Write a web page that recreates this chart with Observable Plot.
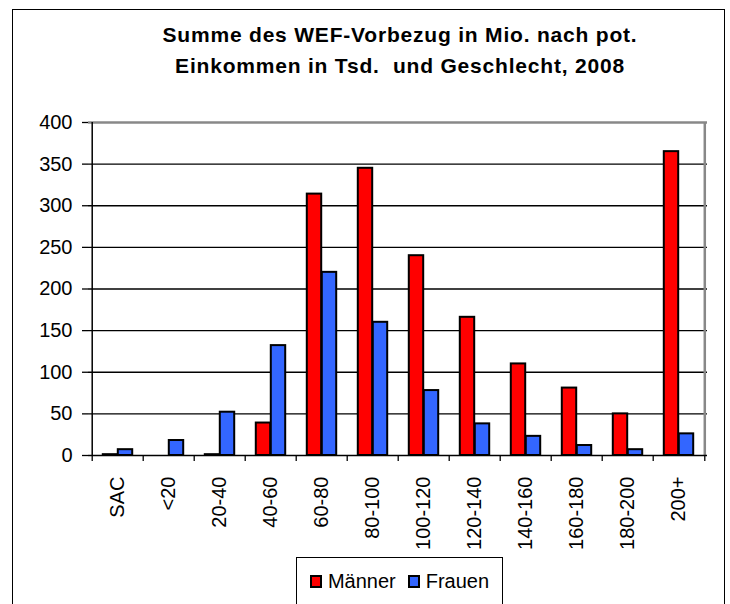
<!DOCTYPE html>
<html>
<head>
<meta charset="utf-8">
<script src="https://cdn.jsdelivr.net/npm/d3@7"></script>
<script src="https://cdn.jsdelivr.net/npm/@observablehq/plot@0.6"></script>
<style>
  html, body { margin: 0; padding: 0; background: #fff; }
  body { width: 730px; height: 604px; position: relative; overflow: hidden; font-family: "Liberation Sans", Arial, sans-serif; }
  #frame { position: absolute; left: 12px; top: 9px; width: 711px; height: 600px; border: 1px solid #000; border-bottom: none; }
  #title { position: absolute; left: 100px; width: 600px; top: 19px; text-align: center; font-weight: bold; font-size: 21px; letter-spacing: 0.8px; line-height: 31px; color: #000; }
  #chart { position: absolute; left: 0; top: 0; }
  #legend { position: absolute; left: 296px; top: 557px; width: 205px; height: 46px; border: 1px solid #000; background: #fff; display: flex; align-items: center; justify-content: center; gap: 12px; font-size: 20px; }
  .item { display: flex; align-items: center; gap: 6px; }
  .sw { width: 8px; height: 9px; border: 2px solid #000; }
</style>
</head>
<body>
<div id="frame"></div>
<div id="title">Summe des WEF-Vorbezug in Mio. nach pot.<br>Einkommen in Tsd.&nbsp; und Geschlecht, 2008</div>
<div id="chart"></div>
<div id="legend"></div>
<script>
const categories = ["SAC", "<20", "20-40", "40-60", "60-80", "80-100", "100-120", "120-140", "140-160", "160-180", "180-200", "200+"];
const maenner = [1, 0, 1, 39, 314, 345, 240, 166, 110, 81, 50, 365];
const frauen  = [7, 18, 52, 132, 220, 160, 78, 38, 23, 12, 7, 26];
const seriesNames = ["Männer", "Frauen"];
const seriesColors = ["#ff0000", "#3366ff"];
const yTicks = [0, 50, 100, 150, 200, 250, 300, 350, 400];

const W = 730, H = 556;
const mL = 88, mR = 23, mT = 122, mB = H - 455;
const bw = (W - mL - mR) / categories.length;
const barW = 15;
const side = (bw - 2 * barW) / 2;

const rowsM = categories.map((c, i) => ({cat: c, value: maenner[i]}));
const rowsF = categories.map((c, i) => ({cat: c, value: frauen[i]}));
const font = "Liberation Sans, Arial, sans-serif";

const chart = Plot.plot({
  width: W, height: H,
  marginLeft: mL, marginRight: mR, marginTop: mT, marginBottom: mB,
  style: {fontFamily: font, fontSize: "20px", color: "#000", background: "transparent", overflow: "visible"},
  x: {domain: categories, padding: 0},
  y: {domain: [0, 400]},
  marks: [
    Plot.gridY(yTicks.slice(1, -1), {stroke: "#000", strokeOpacity: 1, strokeWidth: 1.3}),
    Plot.barY(rowsM, {x: "cat", y: "value", fill: seriesColors[0], stroke: "#000", strokeWidth: 2, insetLeft: side, insetRight: side + barW}),
    Plot.barY(rowsF, {x: "cat", y: "value", fill: seriesColors[1], stroke: "#000", strokeWidth: 2, insetLeft: side + barW, insetRight: side}),
    Plot.ruleY([400], {stroke: "#888", strokeWidth: 2.5}),
    Plot.ruleX([categories[categories.length - 1]], {dx: bw / 2, stroke: "#888", strokeWidth: 2.5}),
    Plot.ruleY([0], {stroke: "#000", strokeWidth: 1.5}),
    Plot.ruleX([categories[0]], {dx: -bw / 2, stroke: "#000", strokeWidth: 1.5}),
    Plot.ruleX(categories, {dx: -bw / 2, stroke: "#000", strokeWidth: 1.3, insetTop: H - mT - mB, insetBottom: -6}),
    Plot.ruleX([categories[categories.length - 1]], {dx: bw / 2, stroke: "#000", strokeWidth: 1.3, insetTop: H - mT - mB, insetBottom: -6}),
    Plot.axisY(yTicks, {tickSize: 6, tickPadding: 10, fontSize: 20, stroke: "#000", strokeWidth: 1.3, label: null}),
    Plot.axisX(categories, {tickSize: 0, tickPadding: 21, tickRotate: -90, fontSize: 20, label: null})
  ]
});
document.getElementById("chart").appendChild(chart);

const legend = document.getElementById("legend");
seriesNames.forEach((name, i) => {
  const it = document.createElement("div");
  it.className = "item";
  const sw = document.createElement("div");
  sw.className = "sw";
  sw.style.background = seriesColors[i];
  const t = document.createElement("span");
  t.textContent = name;
  it.appendChild(sw); it.appendChild(t);
  legend.appendChild(it);
});
</script>
</body>
</html>
